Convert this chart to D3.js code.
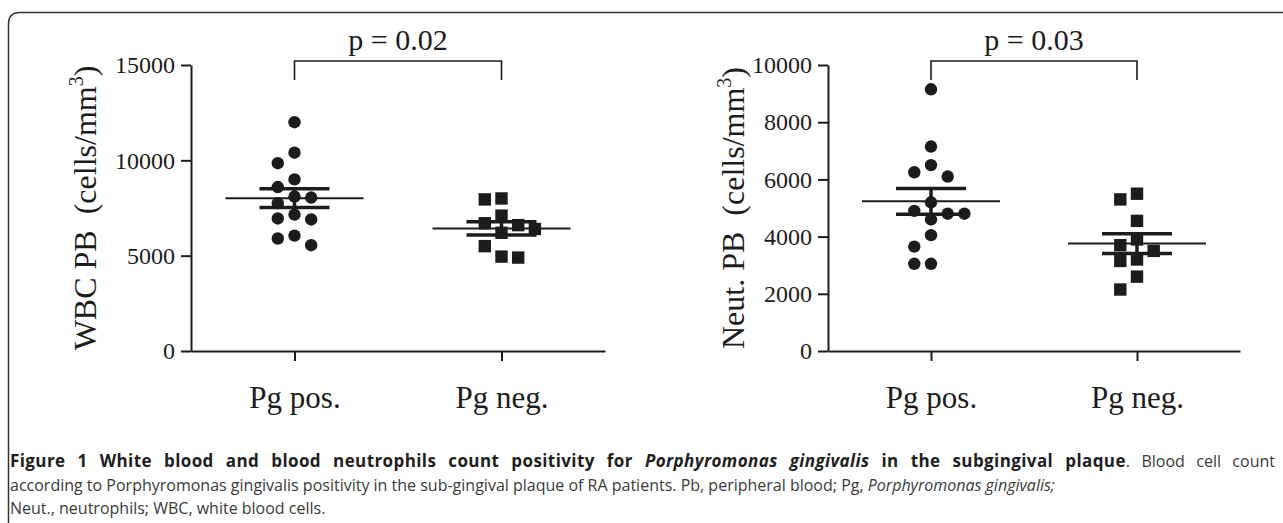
<!DOCTYPE html>
<html>
<head>
<meta charset="utf-8">
<script src="https://d3js.org/d3.v7.min.js"></script>
<style>
  body { margin: 0; background: #fff; }
  svg { display: block; }
  .serif { font-family: "Liberation Serif", "Times New Roman", serif; }
  .cap { font-family: "Open Sans", "Noto Sans", sans-serif; font-size: 16px; }
</style>
</head>
<body>
<script>
// values (cells/mm3)
var categories = ["Pg pos.", "Pg neg."];
var wbcPos = [12000, 10400, 9850, 9000, 8600, 8100, 8050, 7750, 7150, 6950, 6900, 6050, 5900, 5550];
var wbcNeg = [7950, 8000, 7100, 6600, 6700, 6400, 6200, 5500, 4900, 4950];
var neutPos = [9150, 7150, 6500, 6250, 6100, 5200, 4900, 4800, 4800, 4600, 4050, 3650, 3050, 3050];
var neutNeg = [5500, 5300, 4550, 3900, 3700, 3500, 3200, 3150, 2600, 2150];
var wbcTicks = [0, 5000, 10000, 15000];
var neutTicks = [0, 2000, 4000, 6000, 8000, 10000];
var pLabels = ["p = 0.02", "p = 0.03"];
var yTitles = ["WBC PB  (cells/mm", "Neut. PB  (cells/mm"];

var captionLines = [
  [["Figure 1 White blood and blood neutrophils count positivity for ", "b"], ["Porphyromonas gingivalis", "bi"], [" in the subgingival plaque", "b"], [". Blood cell count", "r"]],
  [["according to Porphyromonas gingivalis positivity in the sub-gingival plaque of RA patients. Pb, peripheral blood; Pg, ", "r"], ["Porphyromonas gingivalis;", "i"]],
  [["Neut., neutrophils; WBC, white blood cells.", "r"]]
];

var W = 1283, H = 523;
var ink = "#1c1c1c";

var svg = d3.select("body").append("svg")
  .attr("width", W)
  .attr("height", H);

// frame round the figure (open at right and bottom)
svg.append("path")
  .attr("d", "M8.5," + H + " V24 Q8.5,12.5 20,12.5 H" + W)
  .attr("fill", "none")
  .attr("stroke", "#333")
  .attr("stroke-width", 1.5);

// *** simple beeswarm: put each point in the nearest free column
function swarm(vals, y, step, minDist) {
  var order = [0, -1, 1, 2, -2, 3, -3];
  var placed = [];
  return vals.slice().sort(d3.descending).map(function(v) {
    var py = y(v), off = 0;
    for (var k = 0; k < order.length; k++) {
      var ox = order[k] * step;
      var free = placed.every(function(p) { return Math.hypot(p.ox - ox, p.py - py) >= minDist; });
      if (free) { off = ox; break; }
    }
    placed.push({ ox: off, py: py });
    return { v: v, dx: off };
  });
}

function panel(left, width, yMax, ticks, pos, neg, title, pText, titleX) {
  var top = 65, bottom = 351;
  var y = d3.scaleLinear().domain([0, yMax]).range([bottom, top]);
  var x = d3.scalePoint().domain(categories).range([left, left + width]).padding(0.5);
  var g = svg.append("g");

  // *** axes
  var yAxis = g.append("g")
    .attr("transform", "translate(" + left + ",0)")
    .call(d3.axisLeft(y).tickValues(ticks).tickSize(10).tickSizeOuter(0).tickPadding(6).tickFormat(d3.format("d")));
  var xAxis = g.append("g")
    .attr("transform", "translate(0," + bottom + ")")
    .call(d3.axisBottom(x).tickSize(10).tickSizeOuter(0).tickPadding(25));
  g.selectAll(".domain, .tick line").attr("stroke", ink).attr("stroke-width", 2);
  yAxis.selectAll("text").attr("class", "serif").attr("font-size", 24).attr("fill", ink);
  xAxis.selectAll("text").attr("class", "serif").attr("font-size", 31).attr("fill", ink);

  // y title
  var t = g.append("text")
    .attr("class", "serif")
    .attr("transform", "translate(" + titleX + "," + (top + bottom) / 2 + ") rotate(-90)")
    .attr("text-anchor", "middle")
    .attr("font-size", 32)
    .attr("fill", ink)
    .style("white-space", "pre");
  t.append("tspan").text(title);
  t.append("tspan").attr("font-size", 20).attr("dy", -13).text("3");
  t.append("tspan").attr("dy", 13).text(")");

  // *** points
  [pos, neg].forEach(function(vals, i) {
    var cx = x(categories[i]);
    var pts = swarm(vals, y, 16.7, 13.5);
    if (i === 0) {
      g.selectAll(null).data(pts).enter().append("circle")
        .attr("cx", function(d) { return cx + d.dx; })
        .attr("cy", function(d) { return y(d.v); })
        .attr("r", 6.2)
        .attr("fill", ink);
    } else {
      g.selectAll(null).data(pts).enter().append("rect")
        .attr("x", function(d) { return cx + d.dx - 6.2; })
        .attr("y", function(d) { return y(d.v) - 6.2; })
        .attr("width", 12.4)
        .attr("height", 12.4)
        .attr("fill", ink);
    }

    // mean +/- SEM
    var m = d3.mean(vals);
    var se = d3.deviation(vals) / Math.sqrt(vals.length);
    g.append("line")
      .attr("x1", cx - 69).attr("x2", cx + 69)
      .attr("y1", y(m)).attr("y2", y(m))
      .attr("stroke", ink).attr("stroke-width", 2);
    g.append("line")
      .attr("x1", cx).attr("x2", cx)
      .attr("y1", y(m + se)).attr("y2", y(m - se))
      .attr("stroke", ink).attr("stroke-width", 3.5);
    g.selectAll(null).data([m + se, m - se]).enter().append("line")
      .attr("x1", cx - 35).attr("x2", cx + 35)
      .attr("y1", function(d) { return y(d); })
      .attr("y2", function(d) { return y(d); })
      .attr("stroke", ink).attr("stroke-width", 3.5);
  });

  // *** significance bracket
  var x1 = x(categories[0]), x2 = x(categories[1]);
  g.append("path")
    .attr("d", "M" + x1 + ",80 V61 H" + x2 + " V80")
    .attr("fill", "none")
    .attr("stroke", ink)
    .attr("stroke-width", 1.6);
  g.append("text")
    .attr("class", "serif")
    .attr("x", (x1 + x2) / 2)
    .attr("y", 50)
    .attr("text-anchor", "middle")
    .attr("font-size", 30)
    .attr("fill", ink)
    .text(pText);
}

panel(191, 414, 15000, wbcTicks, wbcPos, wbcNeg, yTitles[0], pLabels[0], 96);
panel(828, 412, 10000, neutTicks, neutPos, neutNeg, yTitles[1], pLabels[1], 744);

// *** caption
var lineY = [467, 491, 514];
captionLines.forEach(function(parts, i) {
  var txt = svg.append("text")
    .attr("class", "cap")
    .attr("x", 10)
    .attr("y", lineY[i])
    .style("white-space", "pre");
  parts.forEach(function(p) {
    var bold = p[1].indexOf("b") === 0;
    txt.append("tspan")
      .attr("font-weight", bold ? 700 : 400)
      .attr("font-size", bold ? 17 : 16)
      .attr("letter-spacing", bold ? 0.4 : 0)
      .attr("font-style", p[1].indexOf("i") >= 0 ? "italic" : "normal")
      .attr("fill", bold ? "#1e1e1e" : "#3a3a3a")
      .text(p[0]);
  });
  if (i === 0) {
    // first line is justified to the right edge
    var len = txt.node().getComputedTextLength();
    var gaps = parts.map(function(p) { return p[0]; }).join("").split(" ").length - 1;
    txt.style("word-spacing", Math.max(0, (1275 - 10 - len) / gaps) + "px");
  }
});
</script>
</body>
</html>
